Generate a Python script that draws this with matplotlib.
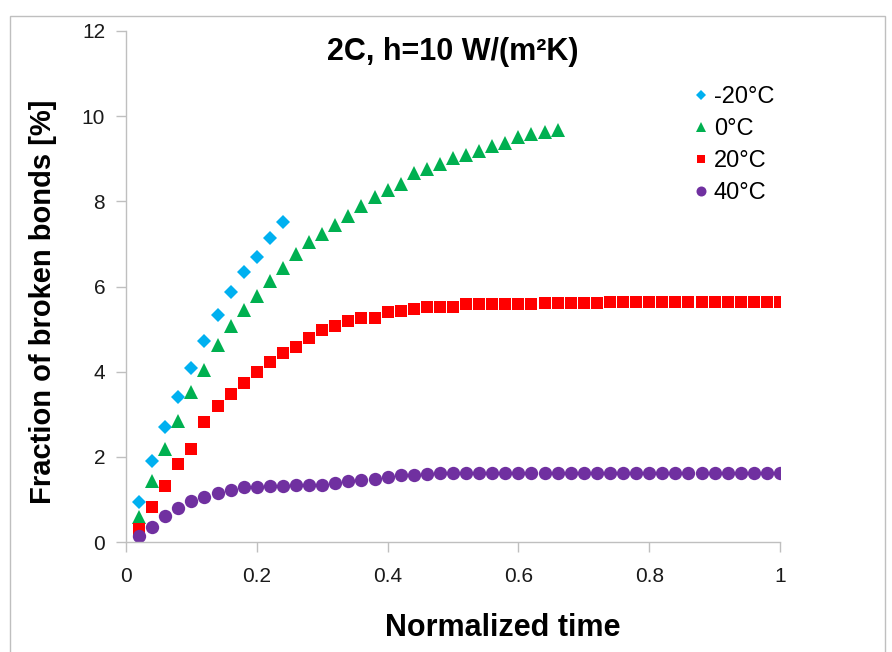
import matplotlib
matplotlib.use('Agg')
import matplotlib.pyplot as plt
from matplotlib import font_manager
from matplotlib.patches import Rectangle

# data (normalized time step 0.02)
t_step = 0.02
frac_m20 = [0.93, 1.91, 2.71, 3.41, 4.08, 4.73, 5.33, 5.88, 6.34, 6.70, 7.13, 7.51]
frac_0 = [0.59, 1.44, 2.19, 2.85, 3.52, 4.04, 4.62, 5.07, 5.45, 5.78, 6.13, 6.44,
          6.76, 7.04, 7.23, 7.44, 7.65, 7.89, 8.11, 8.26, 8.41, 8.67, 8.77, 8.88,
          9.01, 9.09, 9.18, 9.30, 9.37, 9.51, 9.57, 9.63, 9.67]
frac_20 = [0.30, 0.83, 1.32, 1.83, 2.19, 2.82, 3.19, 3.47, 3.74, 4.00, 4.22, 4.45,
           4.59, 4.80, 4.98, 5.07, 5.20, 5.25, 5.25, 5.39, 5.42, 5.46, 5.51, 5.52,
           5.52, 5.58, 5.58, 5.59, 5.59, 5.60, 5.60, 5.61, 5.61, 5.62, 5.62, 5.62,
           5.63, 5.63, 5.63, 5.63, 5.63, 5.63, 5.63, 5.63, 5.63, 5.63, 5.63, 5.63,
           5.63, 5.63]
frac_40 = [0.14, 0.36, 0.62, 0.81, 0.96, 1.06, 1.14, 1.22, 1.28, 1.30, 1.32, 1.32,
           1.34, 1.35, 1.35, 1.38, 1.44, 1.46, 1.49, 1.53, 1.57, 1.58, 1.60, 1.61,
           1.61, 1.61, 1.61, 1.61, 1.61, 1.61, 1.61, 1.61, 1.61, 1.61, 1.61, 1.61,
           1.61, 1.61, 1.61, 1.61, 1.61, 1.61, 1.61, 1.61, 1.61, 1.61, 1.61, 1.61,
           1.61, 1.61]
labels = ['-20°C', '0°C', '20°C', '40°C']
x_ticks = [0, 0.2, 0.4, 0.6, 0.8, 1]
x_tick_labels = ['0', '0.2', '0.4', '0.6', '0.8', '1']
y_ticks = [0, 2, 4, 6, 8, 10, 12]


def times(values):
    return [round(t_step * (i + 1), 2) for i in range(len(values))]


# pick a narrow font if it's there (Calibri look)
names = {f.name for f in font_manager.fontManager.ttflist}
family = 'Liberation Sans Narrow' if 'Liberation Sans Narrow' in names else 'Liberation Sans'
plt.rcParams['font.family'] = [family, 'DejaVu Sans']

fig = plt.figure(figsize=(8.92, 6.52), dpi=100)
ax = fig.add_axes([126 / 892, 110 / 652, 654 / 892, 511 / 652])

series = [
    (frac_m20, 'D', '#00B0F0', 7.0),
    (frac_0, '^', '#00B050', 9.5),
    (frac_20, 's', '#FF0000', 8.6),
    (frac_40, 'o', '#7030A0', 9.6),
]
for (vals, marker, color, ms), lab in zip(series, labels):
    ax.plot(times(vals), vals, linestyle='none', marker=marker, color=color,
            markersize=ms, markeredgewidth=0, label=lab)

ax.set_xlim(0, 1)
ax.set_ylim(0, 12)
ax.set_xticks(x_ticks)
ax.set_xticklabels(x_tick_labels)
ax.set_yticks(y_ticks)

for side in ['top', 'right']:
    ax.spines[side].set_visible(False)
for side in ['left', 'bottom']:
    ax.spines[side].set_color('#BFBFBF')
    ax.spines[side].set_linewidth(1.0)
ax.tick_params(axis='both', direction='out', length=7, width=1.0, color='#BFBFBF',
               labelsize=15, labelcolor='#1a1a1a')
ax.tick_params(axis='x', pad=11)
ax.tick_params(axis='y', pad=8)

ax.set_xlabel('Normalized time', fontsize=22, fontweight='bold')
ax.xaxis.set_label_coords(0.576, -0.138)
ax.set_ylabel('Fraction of broken bonds [%]', fontsize=21, fontweight='bold')
ax.yaxis.set_label_coords(-0.105, 0.47)
ax.set_title('2C, h=10 W/(m²K)', fontsize=22, fontweight='bold', pad=-21, y=1.0)

ax.legend(loc='upper left', bbox_to_anchor=(0.868, 0.892), frameon=False, fontsize=17,
          markerscale=0.75, handlelength=0.6, handletextpad=0.25, labelspacing=0.42,
          borderaxespad=0, borderpad=0)

# light grey frame round the whole chart
fig.patches.append(Rectangle((10 / 892, -0.01), 875 / 892, 1 - 16 / 652 + 0.01,
                             transform=fig.transFigure, fill=False,
                             edgecolor='#BFBFBF', linewidth=1.0))

fig.savefig('out.png', dpi=100)
